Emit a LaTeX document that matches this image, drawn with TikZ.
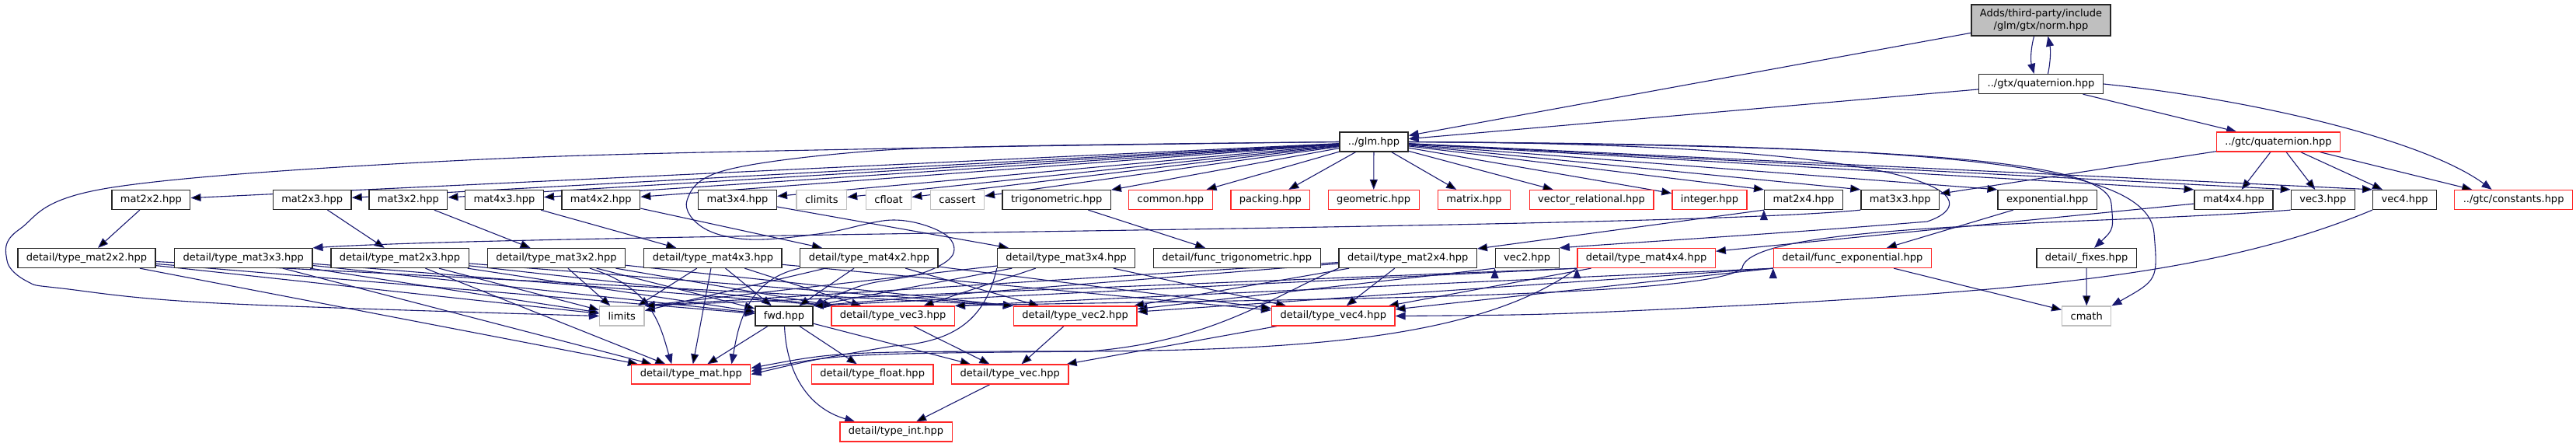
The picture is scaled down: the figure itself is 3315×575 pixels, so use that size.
\documentclass[tikz,border=0pt]{standalone}
\usepackage{fontspec}
\setmainfont{DejaVu Sans}
\usetikzlibrary{arrows.meta,backgrounds}
\definecolor{navy}{HTML}{191970}
\definecolor{redline}{HTML}{FF2828}
\definecolor{sysgray}{HTML}{BFBFBF}
\begin{document}
\begin{tikzpicture}[x=1pt, y=-1pt, >={Triangle[length=13pt,width=10pt]},
    hdr/.style={draw=black!85, fill=white, line width=1.3pt, font=\fontsize{13}{16}\selectfont,
        inner xsep=11pt, inner ysep=0pt, minimum height=25pt},
    trunc/.style={hdr, draw=redline},
    sys/.style={hdr, draw=sysgray},
    rootbox/.style={hdr, fill=sysgray, align=center, minimum height=40pt},
    link/.style={->, draw=navy, line width=1.1pt}]

    \useasboundingbox (0,0) rectangle (3315,575);

    % 1. Tệp gốc và các tệp gtx/gtc
    \node[rootbox] (norm) at (2626.5,26) {Adds/third-party/include\\/glm/gtx/norm.hpp};
    \node[hdr] (gtxquat) at (2626.5,108) {../gtx/quaternion.hpp};
    \node[hdr] (glm) at (1768,182.5) {../glm.hpp};
    \node[trunc] (gtcquat) at (2932,182.5) {../gtc/quaternion.hpp};

    % 2. Hàng thứ ba
    \node[hdr] (m22) at (194.4,257) {mat2x2.hpp};
    \node[hdr] (m23) at (401.7,257) {mat2x3.hpp};
    \node[hdr] (m32) at (525.4,257) {mat3x2.hpp};
    \node[hdr] (m43) at (649,257) {mat4x3.hpp};
    \node[hdr] (m42) at (773.3,257) {mat4x2.hpp};
    \node[hdr] (m34) at (949,257) {mat3x4.hpp};
    \node[sys] (climits) at (1057.3,257) {climits};
    \node[sys] (cfloat) at (1143.6,257) {cfloat};
    \node[sys] (cassert) at (1231.9,257) {cassert};
    \node[hdr] (trig) at (1359.7,257) {trigonometric.hpp};
    \node[trunc] (common) at (1506.4,257) {common.hpp};
    \node[trunc] (packing) at (1634.8,257) {packing.hpp};
    \node[trunc] (geometric) at (1767.7,257) {geometric.hpp};
    \node[trunc] (matrix) at (1897,257) {matrix.hpp};
    \node[trunc] (vecrel) at (2048,257) {vector\_relational.hpp};
    \node[trunc] (integer) at (2200,257) {integer.hpp};
    \node[hdr] (m24) at (2321,257) {mat2x4.hpp};
    \node[hdr] (m33) at (2445.3,257) {mat3x3.hpp};
    \node[hdr] (expo) at (2634.7,257) {exponential.hpp};
    \node[hdr] (m44) at (2874.5,257) {mat4x4.hpp};
    \node[hdr] (vec3) at (2989.3,257) {vec3.hpp};
    \node[hdr] (vec4) at (3094.6,257) {vec4.hpp};
    \node[trunc] (consts) at (3234.6,257) {../gtc/constants.hpp};

    % 3. Hàng thứ tư
    \node[hdr] (t22) at (111.5,332) {detail/type\_mat2x2.hpp};
    \node[hdr] (t33) at (313.2,332) {detail/type\_mat3x3.hpp};
    \node[hdr] (t23) at (514.5,332) {detail/type\_mat2x3.hpp};
    \node[hdr] (t32) at (716,332) {detail/type\_mat3x2.hpp};
    \node[hdr] (t43) at (917.4,332) {detail/type\_mat4x3.hpp};
    \node[hdr] (t42) at (1118.4,332) {detail/type\_mat4x2.hpp};
    \node[hdr] (t34) at (1372.1,332) {detail/type\_mat3x4.hpp};
    \node[hdr] (ftrig) at (1591.8,332) {detail/func\_trigonometric.hpp};
    \node[hdr] (t24) at (1811.7,332) {detail/type\_mat2x4.hpp};
    \node[hdr] (vec2) at (1965.2,332) {vec2.hpp};
    \node[trunc] (t44) at (2118.6,332) {detail/type\_mat4x4.hpp};
    \node[trunc] (fexp) at (2383.9,332) {detail/func\_exponential.hpp};
    \node[hdr] (fixes) at (2685.1,332) {detail/\_fixes.hpp};

    % 4. Các hàng dưới cùng
    \node[sys] (limits) at (800.3,406.5) {limits};
    \node[hdr] (fwd) at (1009,406.5) {fwd.hpp};
    \node[trunc] (tv3) at (1149.2,406.5) {detail/type\_vec3.hpp};
    \node[trunc] (tv2) at (1383.7,406.5) {detail/type\_vec2.hpp};
    \node[trunc] (tv4) at (1715.8,406.5) {detail/type\_vec4.hpp};
    \node[sys] (cmath) at (2685.2,406.5) {cmath};
    \node[trunc] (tmat) at (889.3,481.5) {detail/type\_mat.hpp};
    \node[trunc] (tfloat) at (1122.7,481.5) {detail/type\_float.hpp};
    \node[trunc] (tvec) at (1299.8,481.5) {detail/type\_vec.hpp};
    \node[trunc] (tint) at (1153,555.5) {detail/type\_int.hpp};

    \begin{scope}[on background layer]
    % 5. Mũi tên từ tệp gốc
    \draw[link] ([xshift=-9pt]norm.south) .. controls (2613,64) and (2613,78) .. ([xshift=-9pt]gtxquat.north);
    \draw[link] ([xshift=9pt]gtxquat.north) .. controls (2639,78) and (2639,64) .. ([xshift=9pt]norm.south);
    \draw[link] (norm) -- (glm);
    \draw[link] (gtxquat) -- (glm);
    \draw[link] (gtxquat) -- (gtcquat);
    \draw[link] (gtxquat.east) .. controls (2900,128) and (3120,180) .. ([xshift=-28pt]consts.north);
    \path[link] (gtcquat) edge (m33) edge (m44) edge (vec3) edge (vec4) edge (consts);

    % 6. Mũi tên từ glm.hpp
    \path[link] (glm) edge (m22) edge (m23) edge (m32) edge (m43) edge (m42) edge (m34)
        edge (climits) edge (cfloat) edge (cassert) edge (trig) edge (common) edge (packing)
        edge (geometric) edge (matrix) edge (vecrel) edge (integer) edge (m24.north west)
        edge (m33.north west) edge (expo.north west) edge (m44.north west)
        edge (vec3.north west) edge (vec4.north west);
    \draw[link] plot[smooth, tension=0.6] coordinates {(glm.west) (1150,191) (600,206) (145,241)
        (25,295) (9,335) (35,362) (80,371) (280,390) (limits.west)};
    \draw[link] plot[smooth, tension=0.6] coordinates {(glm.west) (1300,188) (1100,196) (930,220)
        (884,258) (905,293) (965,308) (1060,300) (1150,283) (1214,300) (1226,328) (1185,352)
        (1110,367) (fwd.north east)};
    \draw[link] (glm.east) .. controls (2530,185) and (2555,260) .. (2480,285)
        .. controls (2300,300) and (2100,312) .. (vec2.north east);
    \draw[link] (glm.east) .. controls (2450,188) and (2712,205) .. (2717,262)
        .. controls (2720,295) .. ([xshift=10pt]fixes.north);
    \draw[link] (glm.east) .. controls (2500,186) and (2765,210) .. (2772,300)
        .. controls (2777,360) .. (cmath.north east);

    % 7. Từ hàng thứ ba xuống hàng thứ tư
    \path[link] (m22) edge (t22);
    \path[link] (m23) edge (t23);
    \path[link] (m32) edge (t32);
    \path[link] (m43) edge (t43);
    \path[link] (m42) edge (t42);
    \path[link] (m34) edge (t34);
    \path[link] (trig) edge (ftrig);
    \path[link] (m24.south west) edge (t24);
    \path[link] (m44) edge (t44);
    \path[link] (expo) edge (fexp);
    \draw[link] (m33.south west) .. controls (2150,295) and (700,300) .. (t33.north east);
    \draw[link] (vec3.south west) .. controls (2700,290) and (2250,285) .. (2242,345)
        .. controls (2200,385) and (1600,385) .. (tv3.north east);
    \draw[link] (vec4.south west) .. controls (2850,355) and (2600,372) .. (2300,390)
        .. controls (2000,405) .. (tv4.east);
    \path[link] (vec2.south west) edge (tv2);

    % 8. Các tệp detail
    \path[link] (t22) edge (limits) edge (fwd) edge (tv2.north west) edge (tmat);
    \path[link] (t33) edge (limits) edge (fwd) edge (tv3.north west) edge (tmat);
    \path[link] (t23) edge (limits) edge (fwd) edge (tv2.north west) edge (tv3.north west) edge (tmat);
    \path[link] (t32) edge (limits) edge (fwd) edge (tv2.north west) edge (tv3);
    \path[link] (t43) edge (limits) edge (fwd) edge (tv3) edge (tv4) edge (tmat);
    \path[link] (t42) edge (limits) edge (fwd) edge (tv2) edge (tv4);
    \path[link] (t34) edge (limits.north east) edge (fwd.north east) edge (tv3) edge (tv4);
    \path[link] (t24) edge (limits.north east) edge (fwd.north east) edge (tv2) edge (tv4);
    \path[link] (t44.south west) edge (limits.north east) edge (fwd.north east);
    \path[link] (t44) edge (tv4);
    \draw[link] (t32) .. controls (840,370) and (850,420) .. ([xshift=-25pt]tmat.north);
    \draw[link] (t42.south west) .. controls (960,360) and (950,420) .. ([xshift=-25pt]tmat.north east);
    \draw[link] (t34.south west) .. controls (1270,400) and (1240,440) .. (1150,445)
        .. controls (1050,462) .. (tmat.east);
    \draw[link] (t24.south west) .. controls (1640,380) and (1560,440) .. (1400,452)
        .. controls (1080,455) .. ([yshift=4pt]tmat.east);
    \draw[link] (t44.south west) .. controls (1900,440) and (1650,450) .. (1400,452)
        .. controls (1080,452) .. ([yshift=8pt]tmat.east);
    \path[link] (fexp.south west) edge (tv4) edge (tv2) edge (tv3.north east);
    \path[link] (fexp) edge (cmath);
    \path[link] (fixes) edge (cmath);

    % 9. Hàng dưới cùng
    \path[link] (fwd) edge (tmat) edge (tfloat) edge (tvec);
    \draw[link] (fwd) .. controls (1012,480) and (1040,525) .. ([xshift=20pt]tint.north west);
    \path[link] (tv3) edge (tvec);
    \path[link] (tv2) edge (tvec);
    \path[link] (tv4) edge (tvec);
    \path[link] (tvec) edge (tint);
    \end{scope}

\end{tikzpicture}
\end{document}
